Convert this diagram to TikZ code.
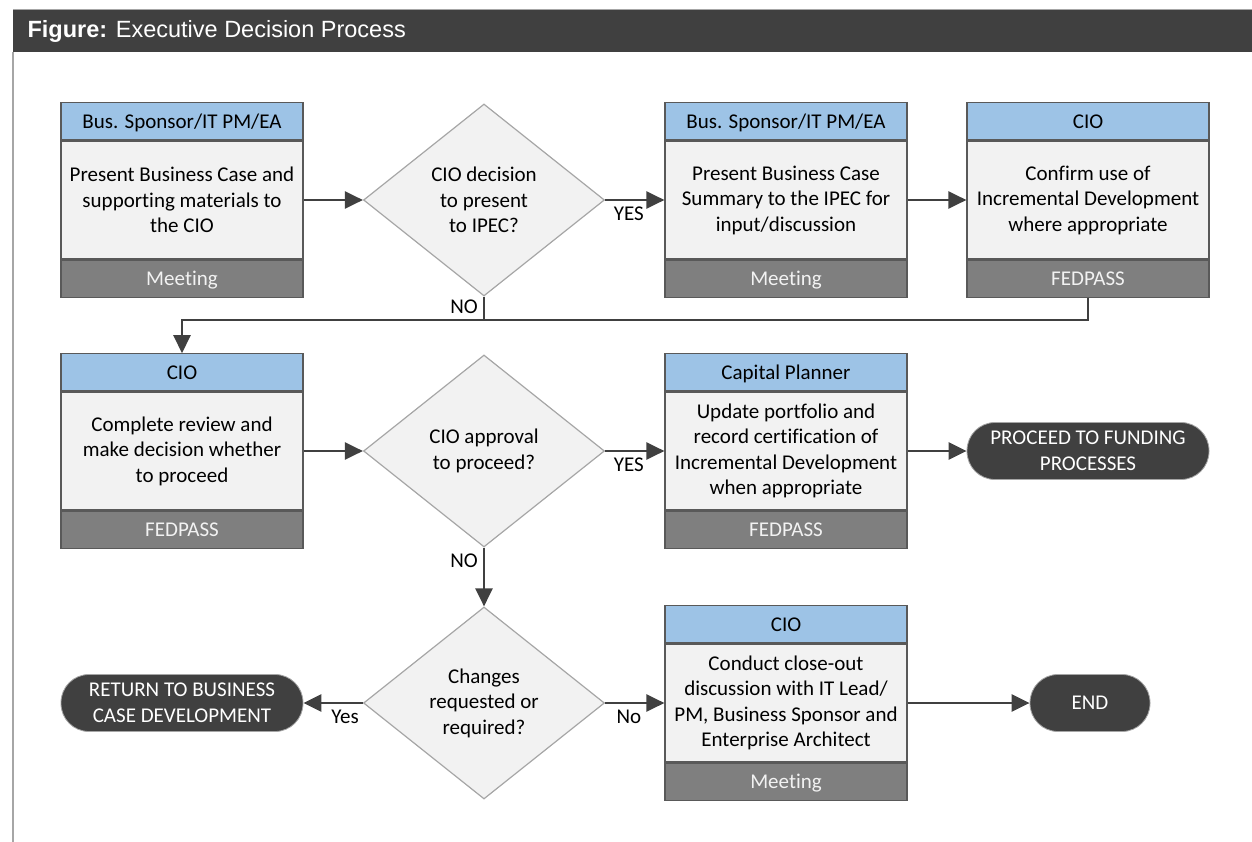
\documentclass[tikz,border=0pt]{standalone}
\usepackage{fontspec}
\setmainfont{Carlito}[Ligatures=NoCommon]
\newfontfamily\headfont{Liberation Sans}
\usetikzlibrary{shapes.geometric,arrows.meta}
\definecolor{darkbar}{HTML}{404040}
\definecolor{rolebar}{HTML}{9DC3E6}
\definecolor{bodyfill}{HTML}{F2F2F2}
\definecolor{footbar}{HTML}{7F7F7F}
\definecolor{edgegray}{HTML}{595959}
\definecolor{rimgray}{HTML}{A6A6A6}

\begin{document}
\begin{tikzpicture}[x=1pt,y=-1pt,
  every node/.style={font=\fontsize{21}{25.5}\selectfont},
  rolebox/.style={draw=edgegray,line width=1.2pt,fill=rolebar,minimum width=242pt,minimum height=37pt,inner sep=0pt,text height=16pt,text depth=2.4pt},
  bodybox/.style={draw=edgegray,line width=1.2pt,fill=bodyfill,minimum width=242pt,minimum height=118pt,inner sep=0pt,align=center},
  footbox/.style={draw=edgegray,line width=1.2pt,fill=footbar,text=bodyfill,minimum width=242pt,minimum height=37pt,inner sep=0pt,text height=16pt,text depth=2.4pt},
  choice/.style={diamond,draw=rimgray,line width=1.2pt,fill=bodyfill,minimum width=241pt,minimum height=192pt,inner sep=0pt,align=center},
  terminal/.style={fill=darkbar,draw=rimgray,line width=0.8pt,text=white,rounded corners=28pt,minimum width=242pt,minimum height=57pt,inner sep=0pt,align=center},
  flow/.style={draw=darkbar,line width=2.5pt,-{Triangle[length=18pt,width=17pt]}},
  tag/.style={inner sep=1pt}]
\useasboundingbox (0,0) rectangle (1252,842);
\fill[darkbar] (13,10) rectangle (1252,52); \draw[rimgray,line width=1pt] (13,10) -- (1252,10);
\draw[rimgray,line width=2pt] (13,52) -- (13,842);
\node[anchor=west,text=white,font=\headfont\fontsize{23.5}{28}\selectfont] (title) at (24,31) {\textbf{Figure:} Executive Decision Process};
\foreach \n/\x/\y/\r/\b/\f in {
  a/182/200/{Bus. Sponsor/IT PM/EA}/{Present Business Case and\\supporting materials to\\the CIO}/Meeting,
  b/786/200/{Bus. Sponsor/IT PM/EA}/{Present Business Case\\Summary to the IPEC for\\input/discussion}/Meeting,
  c/1088/200/CIO/{Confirm use of\\Incremental Development\\where appropriate}/FEDPASS,
  d/182/451/CIO/{Complete review and\\make decision whether\\to proceed}/FEDPASS,
  e/786/451/{Capital Planner}/{Update portfolio and\\record certification of\\Incremental Development\\when appropriate}/FEDPASS,
  f/786/703/CIO/{Conduct close-out\\discussion with IT Lead/\\PM, Business Sponsor and\\Enterprise Architect}/Meeting} {
  \node[bodybox] (\n-b) at (\x,\y) {\b};
  \node[rolebox,anchor=south] (\n-h) at (\n-b.north) {\r};
  \node[footbox,anchor=north] (\n-f) at (\n-b.south) {\f};
};
\node[choice] (q1) at (484,200) {CIO decision\\to present\\to IPEC?};
\node[choice] (q2) at (484,451) {CIO approval\\to proceed?};
\node[choice] (q3) at (484,703) {Changes\\requested or\\required?};
\node[terminal] (fund) at (1088,451) {PROCEED TO FUNDING\\PROCESSES};
\node[terminal] (back) at (182,703) {RETURN TO BUSINESS\\CASE DEVELOPMENT};
\node[terminal,minimum width=120pt] (stop) at (1090,703) {END};
\coordinate (j) at (182,320);
\draw[flow] (a-b.east) -- (q1.west);
\draw[flow] (q1.east) -- (b-b.west) node[tag,pos=0.4,below=5pt] (yes1) {YES};
\draw[flow] (b-b.east) -- (c-b.west);
\draw[draw=darkbar,line width=2.5pt] (q1.south) -- (q1.south |- j) node[tag,pos=0.45,left=4pt] (no1) {NO};
\draw[flow] (c-f.south) |- (j) -- (d-h.north);
\draw[flow] (d-b.east) -- (q2.west);
\draw[flow] (q2.east) -- (e-b.west) node[tag,pos=0.4,below=5pt] (yes2) {YES};
\draw[flow] (e-b.east) -- (fund.west);
\draw[flow] (q2.south) -- (q3.north) node[tag,pos=0.23,left=4pt] (no2) {NO};
\draw[flow] (q3.west) -- (back.east) node[tag,pos=0.3,below=5pt] (yes3) {Yes};
\draw[flow] (q3.east) -- (f-b.west) node[tag,pos=0.4,below=5pt] (no3) {No};
\draw[flow] (f-b.east) -- (stop.west);
\end{tikzpicture}
\end{document}
